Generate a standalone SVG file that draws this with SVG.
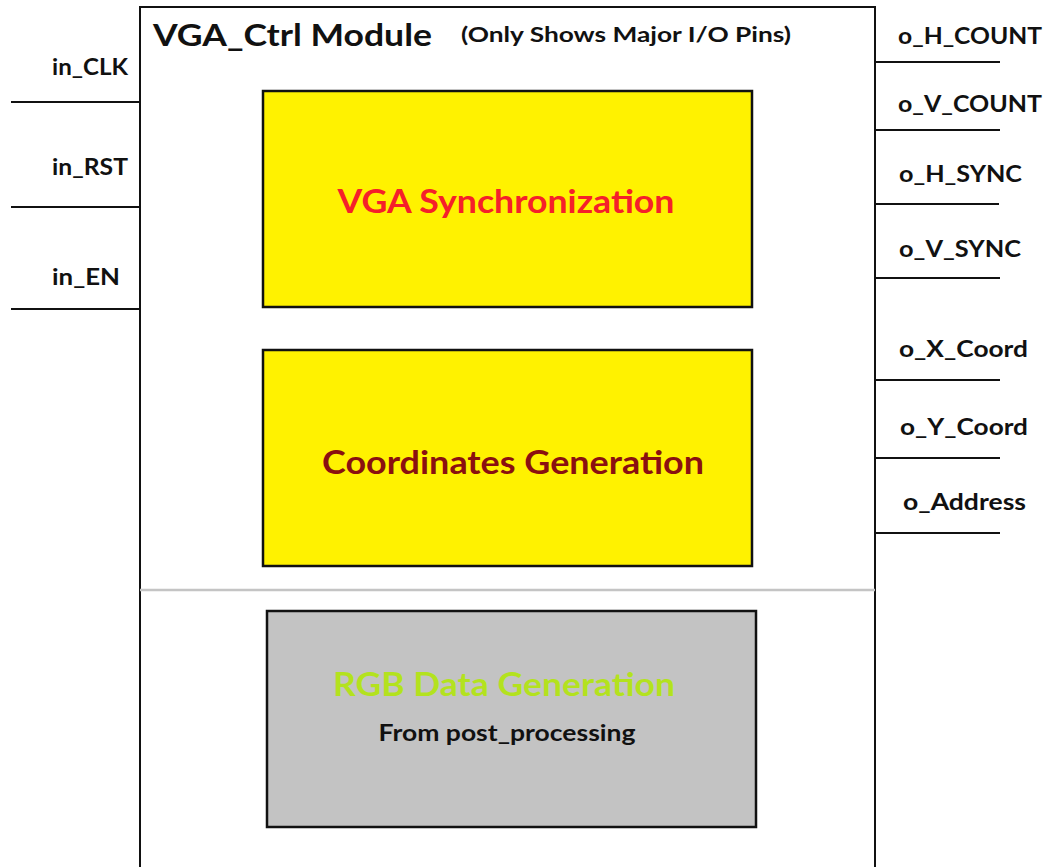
<svg xmlns="http://www.w3.org/2000/svg" width="1045" height="867" viewBox="0 0 1045 867">
<style>
text{font-family:Lato,"Open Sans","Liberation Sans",sans-serif;font-weight:bold}
.pin{font-size:22px;fill:#111}
.wire{stroke:#111;stroke-width:2;fill:none}
.blk{stroke:#111;stroke-width:2.5}
.big{font-size:32px;text-anchor:middle}
</style>
<rect width="1045" height="867" fill="#fff"/>
<g id="module">
<path d="M140,870 V7 H875 V870" class="wire"/>
<text x="153" y="46" font-size="30" fill="#111" textLength="279" lengthAdjust="spacingAndGlyphs">VGA_Ctrl Module</text>
<text x="461" y="42" font-size="20" fill="#111" textLength="330" lengthAdjust="spacingAndGlyphs">(Only Shows Major I/O Pins)</text>
<line x1="140" y1="590" x2="875" y2="590" stroke="#c4c4c4" stroke-width="2.5"/>
</g>
<g id="sync">
<rect x="263" y="91" width="489" height="216" fill="#fff200" class="blk"/>
<text x="506" y="213" class="big" fill="#f5202a" textLength="337" lengthAdjust="spacingAndGlyphs">VGA Synchronization</text>
</g>
<g id="coords">
<rect x="263" y="350" width="489" height="216" fill="#fff200" class="blk"/>
<text x="513" y="474" class="big" fill="#8a1010" textLength="382" lengthAdjust="spacingAndGlyphs">Coordinates Generation</text>
</g>
<g id="rgb">
<rect x="267" y="611" width="489" height="216" fill="#c3c3c3" class="blk"/>
<text x="504" y="696" class="big" fill="#b3e21e" textLength="342" lengthAdjust="spacingAndGlyphs">RGB Data Generation</text>
<text x="507" y="741" font-size="23" text-anchor="middle" fill="#111" textLength="257" lengthAdjust="spacingAndGlyphs">From post_processing</text>
</g>
<g id="connectors">
<line x1="11" y1="102" x2="140" y2="102" class="wire"/>
<line x1="11" y1="207" x2="140" y2="207" class="wire"/>
<line x1="11" y1="309" x2="140" y2="309" class="wire"/>
<line x1="875" y1="62" x2="1000" y2="62" class="wire"/>
<line x1="875" y1="130" x2="1000" y2="130" class="wire"/>
<line x1="875" y1="204" x2="999" y2="204" class="wire"/>
<line x1="875" y1="278" x2="1000" y2="278" class="wire"/>
<line x1="875" y1="380" x2="1000" y2="380" class="wire"/>
<line x1="875" y1="458" x2="1000" y2="458" class="wire"/>
<line x1="875" y1="533" x2="1000" y2="533" class="wire"/>
</g>
<g id="pin_in_CLK"><text x="52" y="75" class="pin" textLength="76" lengthAdjust="spacingAndGlyphs">in_CLK</text></g>
<g id="pin_in_RST"><text x="52" y="175" class="pin" textLength="76" lengthAdjust="spacingAndGlyphs">in_RST</text></g>
<g id="pin_in_EN"><text x="52" y="285" class="pin" textLength="68" lengthAdjust="spacingAndGlyphs">in_EN</text></g>
<g id="pin_o_H_COUNT"><text x="898" y="44" class="pin" textLength="144" lengthAdjust="spacingAndGlyphs">o_H_COUNT</text></g>
<g id="pin_o_V_COUNT"><text x="898" y="112" class="pin" textLength="144" lengthAdjust="spacingAndGlyphs">o_V_COUNT</text></g>
<g id="pin_o_H_SYNC"><text x="899" y="182" class="pin" textLength="123" lengthAdjust="spacingAndGlyphs">o_H_SYNC</text></g>
<g id="pin_o_V_SYNC"><text x="899" y="257" class="pin" textLength="122" lengthAdjust="spacingAndGlyphs">o_V_SYNC</text></g>
<g id="pin_o_X_Coord"><text x="899" y="357" class="pin" textLength="129" lengthAdjust="spacingAndGlyphs">o_X_Coord</text></g>
<g id="pin_o_Y_Coord"><text x="900" y="435" class="pin" textLength="128" lengthAdjust="spacingAndGlyphs">o_Y_Coord</text></g>
<g id="pin_o_Address"><text x="903" y="510" class="pin" textLength="123" lengthAdjust="spacingAndGlyphs">o_Address</text></g>
</svg>
